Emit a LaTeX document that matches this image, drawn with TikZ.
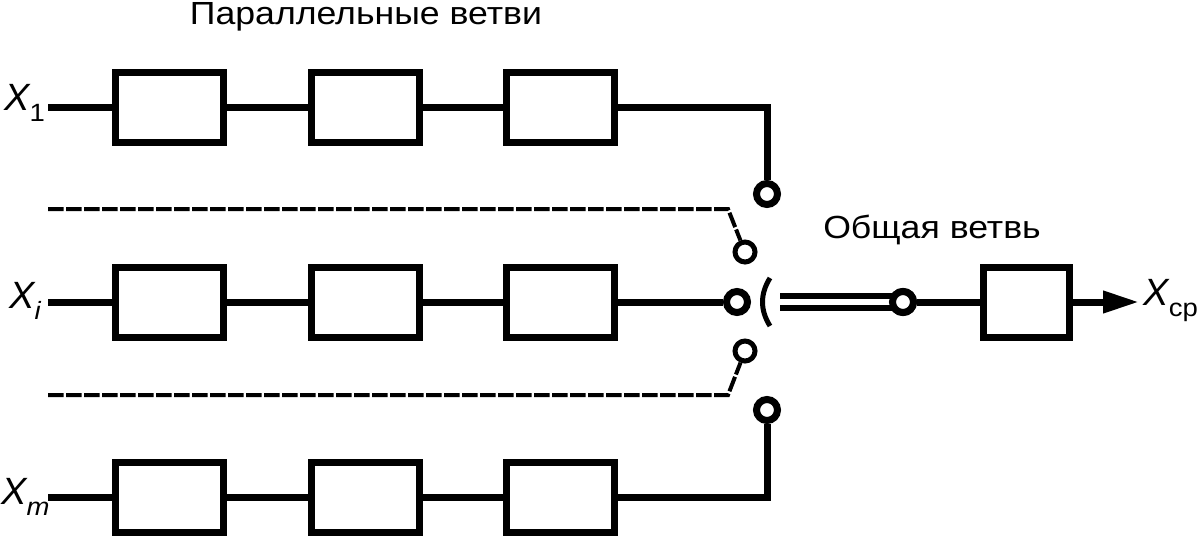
\documentclass[tikz,border=0pt]{standalone}
\usepackage{fontspec}
\setmainfont{Liberation Sans}
\usepackage{tikz}
\usetikzlibrary{positioning,arrows.meta,calc}
\newcommand{\xvar}[1]{\textit{X}\kern-1pt\raisebox{-11pt}{\fontsize{25}{25}\selectfont\addfontfeature{FakeStretch=1.1}#1}}

\begin{document}
\begin{tikzpicture}[
  x=1pt, y=-1pt,
  node distance=80.5pt,
  box/.style={draw, line width=7pt, minimum width=108pt, minimum height=70pt, inner sep=0pt},
  cont/.style={draw, circle, line width=7pt, fill=white, minimum size=21pt, inner sep=0pt},
  thin cont/.style={cont, line width=5pt, minimum size=20pt},
  wire/.style={line width=7pt},
  ctl/.style={line width=4pt, dash pattern=on 15.5pt off 2.5pt},
  lab/.style={font=\fontsize{38}{38}\selectfont, inner sep=0pt},
  cap text/.style={font=\fontsize{32}{32}\selectfont\addfontfeature{FakeStretch=1.114}, inner sep=0pt, anchor=base}
]
  \useasboundingbox (0,0) rectangle (1198,535);

  \node[cap text] (partitle) at (366,24.5) {Параллельные ветви};
  \node[cap text] (comtitle) at (932,238.5) {Общая ветвь};

  % branches
  \node[box] (a1) at (169.5,107) {};
  \node[box, right=of a1] (a2) {};
  \node[box, right=of a2] (a3) {};

  \node[box] (b1) at (169.5,302) {};
  \node[box, right=of b1] (b2) {};
  \node[box, right=of b2] (b3) {};

  \node[box] (c1) at (169.5,497.5) {};
  \node[box, right=of c1] (c2) {};
  \node[box, right=of c2] (c3) {};

  \node[box, minimum width=86pt] (out) at (1026.5,302) {};

  % contacts
  \node[cont] (contop) at (767,194) {};
  \node[thin cont] (conup) at (745,252) {};
  \node[cont] (conmid) at (737,302) {};
  \node[thin cont] (condown) at (745,351) {};
  \node[cont] (conbot) at (767,410) {};
  \node[cont] (conout) at (903,302) {};

  % inputs and output
  \node[lab, anchor=west] (x1) at (4,103) {\xvar{1}};
  \node[lab, anchor=west] (xi) at (9,301) {\xvar{\textit{i}}};
  \node[lab, anchor=west] (xm) at (1,497) {\xvar{\textit{m}}};
  \node[lab, anchor=west] (xout) at (1143,301) {\xvar{ср}};

  \coordinate (in1) at (48,107);
  \coordinate (ini) at (48,302);
  \coordinate (inm) at (48,497.5);
  \coordinate (tipout) at (1139,302);
  \coordinate (ctl1) at (48,209);
  \coordinate (ctl1b) at (728,209);
  \coordinate (ctl2) at (48,395);
  \coordinate (ctl2b) at (728,395);
  \coordinate (barend) at (780,302);

  \draw[wire] (in1) -- (a1);
  \draw[wire] (ini) -- (b1);
  \draw[wire] (inm) -- (c1);
  \draw[wire] (a1) -- (a2);
  \draw[wire] (a2) -- (a3);
  \draw[wire] (b1) -- (b2);
  \draw[wire] (b2) -- (b3);
  \draw[wire] (c1) -- (c2);
  \draw[wire] (c2) -- (c3);
  \draw[wire] (a3.east) -| (contop.north);
  \draw[wire] (c3.east) -| (conbot.south);
  \draw[wire] (b3) -- (conmid);
  \draw[wire] (conout) -- (out);
  \draw[wire, -{Triangle[length=36pt, width=21pt]}] (out) -- (tipout);

  \draw[ctl] (ctl1) -- (ctl1b) -- (conup);
  \draw[ctl] (ctl2) -- (ctl2b) -- (condown);

  \draw[line width=6pt, double, double distance=6pt] (barend) -- (conout.center);
  \node[cont] at (conout) {};
  \draw[line width=5pt] (770,278) .. controls (760,294) and (760,310) .. (770,326);
\end{tikzpicture}
\end{document}
